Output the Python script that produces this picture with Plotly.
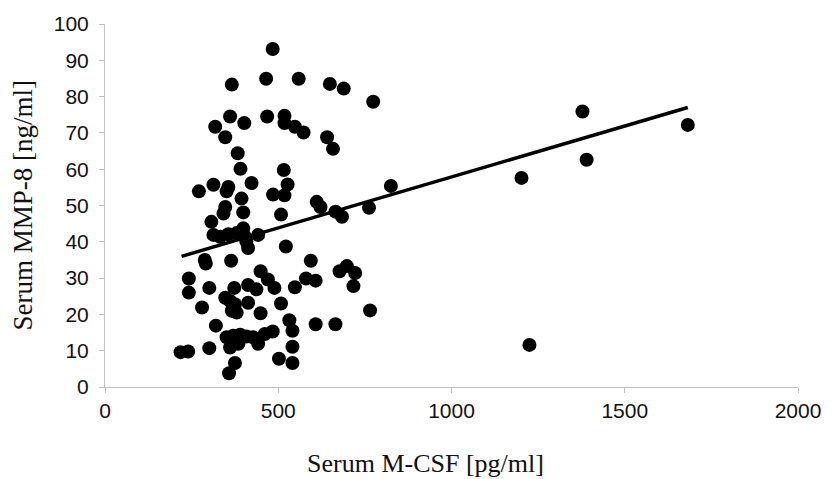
import plotly.graph_objects as go

# Serum M-CSF [pg/ml]
mcsf = [484, 366, 465, 559, 649, 689, 774, 361, 318, 402,
        347, 468, 518, 518, 548, 573, 641, 658, 383, 391,
        516, 527, 423, 313, 271, 356, 351, 825, 485, 518,
        394, 611, 622, 347, 342, 399, 508, 665, 684, 762,
        307, 313, 332, 356, 380, 399, 404, 408, 413, 442,
        522, 288, 291, 364, 594, 449, 470, 489, 242, 242,
        301, 373, 413, 437, 548, 580, 608, 677, 698, 722,
        717, 765, 347, 361, 375, 366, 380, 413, 280, 449,
        508, 532, 541, 320, 608, 665, 351, 370, 390, 408,
        427, 442, 461, 484, 361, 385, 541, 218, 240, 301,
        502, 541, 375, 358, 1378, 1682, 1390, 1202, 1225]
# Serum MMP-8 [ng/ml]
mmp8 = [93.1, 83.3, 84.9, 84.9, 83.5, 82.2, 78.6, 74.5, 71.7, 72.7,
        68.8, 74.5, 74.7, 72.7, 71.7, 70.1, 68.8, 65.6, 64.4, 60.1,
        59.8, 55.8, 56.2, 55.7, 53.9, 55.1, 53.9, 55.4, 53.0, 52.8,
        51.9, 51.0, 49.6, 49.6, 47.8, 48.1, 47.5, 48.3, 46.9, 49.4,
        45.5, 41.9, 41.4, 42.1, 42.4, 43.7, 41.4, 40.1, 38.3, 41.9,
        38.7, 35.0, 34.0, 34.8, 34.8, 31.9, 29.6, 27.3, 29.9, 26.0,
        27.3, 27.3, 28.1, 26.9, 27.5, 29.9, 29.3, 31.9, 33.3, 31.4,
        27.8, 21.1, 24.6, 23.7, 22.8, 21.0, 20.5, 23.2, 21.9, 20.3,
        23.0, 18.4, 15.5, 16.9, 17.3, 17.3, 13.7, 14.1, 14.4, 13.9,
        13.7, 11.9, 14.6, 15.3, 10.9, 11.9, 11.1, 9.6, 9.8, 10.7,
        7.8, 6.6, 6.6, 3.8, 75.9, 72.2, 62.6, 57.6, 11.6]

# linear trend line (end points)
trend_x = [221, 1682]
trend_y = [36.0, 77.0]

x_ticks = [0, 500, 1000, 1500, 2000]
y_ticks = [0, 10, 20, 30, 40, 50, 60, 70, 80, 90, 100]

x_title = "Serum M-CSF [pg/ml]"
y_title = "Serum MMP-8 [ng/ml]"

fig = go.Figure()
fig.add_trace(go.Scatter(
    x=mcsf, y=mmp8, mode="markers",
    marker=dict(size=14, color="black", line=dict(width=0)),
    showlegend=False, cliponaxis=False))
fig.add_trace(go.Scatter(
    x=trend_x, y=trend_y, mode="lines",
    line=dict(color="black", width=3.5),
    showlegend=False))

axis_common = dict(
    showgrid=False, zeroline=False, showline=True,
    linecolor="#c0c0c0", linewidth=1,
    ticks="outside", ticklen=5, tickcolor="#c0c0c0", tickwidth=1,
    tickfont=dict(family="Liberation Sans, Arial, sans-serif", size=21, color="#111"),
)
serif = "Liberation Serif, Times New Roman, serif"

fig.update_layout(
    width=833, height=479,
    margin=dict(l=105, r=26, t=21, b=92),
    paper_bgcolor="white", plot_bgcolor="white",
    xaxis=dict(range=[0, 2000], tickvals=x_ticks, **axis_common),
    yaxis=dict(range=[0, 100], tickvals=y_ticks, ticklabelstandoff=6, **axis_common),
    annotations=[
        dict(text=x_title, xref="paper", yref="paper", x=0.462, y=0,
             xanchor="center", yanchor="middle", yshift=-76, showarrow=False,
             font=dict(family=serif, size=26, color="#111")),
        dict(text=y_title, xref="paper", yref="paper", x=0, y=0.5,
             xanchor="center", yanchor="middle", xshift=-83, textangle=-90,
             showarrow=False, font=dict(family=serif, size=27, color="#111")),
    ],
)

fig.write_html("out.html", config={"displayModeBar": False},
               post_script="document.body.style.margin='0px';")
